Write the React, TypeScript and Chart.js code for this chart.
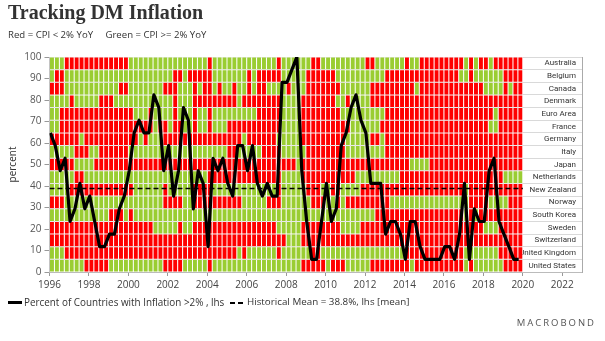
import { useEffect, useRef } from "react";
import { Chart, registerables } from "chart.js";

Chart.register(...registerables);

// ---------------- data ----------------
const startYear = 1996; // first quarter: 1996 Q1, quarterly through 2019 Q4

const countries = [
  "Australia",
  "Belgium",
  "Canada",
  "Denmark",
  "Euro Area",
  "France",
  "Germany",
  "Italy",
  "Japan",
  "Netherlands",
  "New Zealand",
  "Norway",
  "South Korea",
  "Sweden",
  "Switzerland",
  "United Kingdom",
  "United States",
];

// G = CPI >= 2% YoY (green), R = CPI < 2% YoY (red); one block of 4 quarters per year, 1996..2019
const australia = "GGGR RRRR RRRR RRRR GGGG GGGG GGGG GGGG RGGG GGGG GGGG GGRG GGGG GRRG GGGG GGGG RRGG GGGG RGGR RRRR RRRR GRGR RGRR RRRR";
const belgium = "GRRG GGGG GGGG GGGG GGGG GGGG GRRG RRRR RGGG GGGG RGRR RRRG GGGG RRRR RRGG GGGG GGGG RRRR RRRR RRRR RRRG GRGG GGGG RRRR";
const canada = "RRRG GGGG GGGG GGRR GGGG GGGR RRGG GRGR RGRG GRGG RGRR GGGG RGGG RRRR RRRG GGGG GRRR RRRR RRGR RRRR RRRR RRRR GGGG RGRR";
const denmark = "GGGG RGGG GGRR RGGG GGGG GGGG GRGG GRRR RRRR RRGR RRRR RRRG GGGR RRRR RRGG RGGG GRRR RRRR RRRR RRRR RRRR RRRR RRRR RRRR";
const euroArea = "GGRR RRRR RRRR RRRR RGGG RGGG GRGG GRGG RGGG GGGG GGRR RRRG GGGR RRRR RRRG GGGG GGGG RRRR RRRR RRRR RRRR RRRR RRGR RRRR";
const france = "GGRR RRRR RRRR RRRR RRRR RGRR GRRG GRGG RGGG RRRR RRRR RRRG GGGR RRRR RRRR RGGG GGGR RRRR RRRR RRRR RRRR RRRR RGGR RRRR";
const germany = "RRRR RRGR RRRR RRRR RRGR GGGR RRRR RRRR RRRR RRRG RRRR RRGG GGGR RRRR RRRR GGGG GRRG RRRR RRRR RRRR RRRR RRRR RRRR RRRR";
const italy = "GGGG GRRR GGRR RRRR GGGG GGGG GGGG GGGG GGGG RRGG GGGR RRRG GGGG RRRR RRRR GGGG GGGG RRRR RRRR RRRR RRRR RRRR RRRR RRRR";
const japan = "RRRR RGGG GRRR RRRR RRRR RRRR RRRR RRRR RRRR RRRR RRRR RRRR RRGR RRRR RRRR RRRR RRRR RRRR RGGG GRRR RRRR RRRR RRRR RRRR";
const netherlands = "GGGG GRRG GGGG GGGG GGGG GGGG GGGG GGGG RRRR RRRR RRRR RRRG GGGR RRRR RRRR RRGG GGGG GGGR RRRR RRRR RRRR RRRR RRRR GGGG";
const newZealand = "GGGG RRRR RRRR RRRR RGGG GGGR GGGG GRRR RGGG GGGG GGGG GGRG GGGG RRRG GRRG GGGR RRRR RRRR RRRR RRRR RRRR GRRR RRRR RRRR";
const norway = "RRRG GGGG GGGG GGGG GGGG GGGR RRRG GRRR RRRR RRRG GGGG RRRG GGGG GRRR GGRG RRRR RRRR RGGG GGGG GGGG GGGG GRRR RGGG GRRR";
const southKorea = "GGGG GGGG GGGG RRRG RGGG GGGG GGGG GGGG GGGG GGGG GGGG GGGG GGGG GGGG GGGG GGGG GGRR RRRR RRRR RRRR RRRR GRGR RRRR RRRR";
const sweden = "RRRR RRRR RRRR RRRR RRRR RGGG GGRG GRRR RRRR RRRR RRRR RRGG GGGR RRRR RRRG GGGR RRRR RRRR RRRR RRRR RRRR RRRR GGGR RRRR";
const switzerland = "RRRR RRRR RRRR RRRR RRRR RRRR RRRR RRRR RRRR RRRR RRRR RRRR GGGR RRRR RRRR RRRR RRRR RRRR RRRR RRRR RRRR RRRR RRRR RRRR";
const unitedKingdom = "GGGR RRRR RRRR RRRR RRRR RRRR RRRR RRRR RRRR RRGR GGGG GGRG GGGG GRRG GGGG GGGG GGGG GGGG RRRR RRRR RRRR GGGG GGGR RRRR";
const unitedStates = "GGGG GGGR RRRR GGGG GGGG GGGR RRRG GGGG RGGG GGGG GGGG GGGG GGGR RRRR GRRR GGGG GRRR RRRR RGRR RRRR RRRR GRGG GGGG RRRR";

const heatRows = [
  australia, belgium, canada, denmark, euroArea, france, germany, italy, japan,
  netherlands, newZealand, norway, southKorea, sweden, switzerland, unitedKingdom, unitedStates,
];

// Percent of countries with inflation > 2% (quarterly, 1996 Q1 .. 2019 Q4)
const pctAbove2 = [
  64.7, 58.8, 47.1, 52.9, 23.5, 29.4, 41.2, 29.4, 35.3, 23.5, 11.8, 11.8,
  17.6, 17.6, 29.4, 35.3, 47.1, 64.7, 70.6, 64.7, 64.7, 82.4, 76.5, 47.1,
  58.8, 35.3, 47.1, 76.5, 70.6, 29.4, 47.1, 41.2, 11.8, 52.9, 47.1, 52.9,
  41.2, 35.3, 58.8, 58.8, 47.1, 58.8, 41.2, 35.3, 41.2, 35.3, 35.3, 88.2,
  88.2, 94.1, 100, 47.1, 23.5, 5.9, 5.9, 23.5, 41.2, 23.5, 29.4, 58.8,
  64.7, 76.5, 82.4, 70.6, 64.7, 41.2, 41.2, 41.2, 17.6, 23.5, 23.5, 17.6,
  5.9, 23.5, 23.5, 11.8, 5.9, 5.9, 5.9, 5.9, 11.8, 11.8, 5.9, 17.6,
  41.2, 5.9, 29.4, 23.5, 23.5, 47.1, 52.9, 23.5, 17.6, 11.8, 5.9, 5.9,
];

const historicalMean = 38.8;

const xTickYears = [1996, 1998, 2000, 2002, 2004, 2006, 2008, 2010, 2012, 2014, 2016, 2018, 2020, 2022];
const yTickValues = [0, 10, 20, 30, 40, 50, 60, 70, 80, 90, 100];
const xMin = 1996;
const xMax = 2023;

// ---------------- styles ----------------
const GREEN = "#9acd32";
const RED = "#ff0000";
const FONT = "'Open Sans', 'DejaVu Sans', sans-serif";

export default function App() {
  const canvasRef = useRef<HTMLCanvasElement>(null);

  useEffect(() => {
    document.body.style.margin = "0";
    const canvas = canvasRef.current;
    if (!canvas) return;

    const heatSets: any[] = countries.map((name, r) => {
      const cells = heatRows[r].replace(/\s+/g, "").split("");
      return {
        type: "bar",
        label: name,
        indexAxis: "y",
        xAxisID: "x",
        yAxisID: "yc",
        grouped: false,
        data: cells.map((_c, k) => ({ y: name, x: [startYear + k / 4, startYear + (k + 1) / 4] })),
        backgroundColor: cells.map((c) => (c === "G" ? GREEN : RED)),
        borderColor: "#ffffff",
        borderWidth: 0.5,
        borderSkipped: false,
        inflateAmount: 0,
        barPercentage: 1,
        categoryPercentage: 1,
        order: 5,
      };
    });

    const nQuarters = heatRows[0].replace(/\s+/g, "").length;

    const lineSet: any = {
      type: "line",
      label: "Percent of Countries with Inflation >2% , lhs",
      xAxisID: "x",
      yAxisID: "y",
      data: pctAbove2.map((v, k) => ({ x: startYear + k / 4 + 1 / 24, y: v })),
      borderColor: "#000000",
      borderWidth: 3.2,
      pointRadius: 0,
      tension: 0,
      borderJoinStyle: "round",
      order: 0,
    };

    const meanSet: any = {
      type: "line",
      label: "Historical Mean = 38.8%, lhs [mean]",
      xAxisID: "x",
      yAxisID: "y",
      data: [
        { x: startYear, y: historicalMean },
        { x: startYear + nQuarters / 4, y: historicalMean },
      ],
      borderColor: "#000000",
      borderWidth: 1.5,
      borderDash: [5, 3],
      pointRadius: 0,
      order: 1,
    };

    const chart = new Chart(canvas, {
      type: "bar",
      data: { datasets: [lineSet, meanSet, ...heatSets] },
      options: {
        animation: false,
        responsive: false,
        events: [],
        layout: { padding: { left: 0, right: 23, top: 57, bottom: 45 } },
        plugins: { legend: { display: false }, tooltip: { enabled: false } },
        scales: {
          x: {
            type: "linear",
            position: "bottom",
            offset: false,
            min: xMin,
            max: xMax,
            afterBuildTicks: (s: any) => {
              s.ticks = xTickYears.map((v) => ({ value: v }));
            },
            afterFit: (s: any) => {
              s.height = 24;
            },
            grid: { offset: false, drawOnChartArea: false, drawTicks: true, tickLength: 4, color: "#999999" },
            border: { display: true, color: "#bbbbbb" },
            ticks: {
              color: "#444444",
              font: { family: FONT, size: 10 },
              padding: 3,
              maxRotation: 0,
              autoSkip: false,
              callback: (v: any) => String(v),
            },
          },
          y: {
            type: "linear",
            position: "left",
            offset: false,
            min: 0,
            max: 100,
            afterBuildTicks: (s: any) => {
              s.ticks = yTickValues.map((v) => ({ value: v }));
            },
            afterFit: (s: any) => {
              s.width = 49.5;
            },
            grid: { drawOnChartArea: false, tickLength: 5, color: "#999999" },
            border: { display: true, color: "#bbbbbb" },
            ticks: { color: "#555555", font: { family: FONT, size: 10 }, padding: 3, callback: (v: any) => String(v) },
            title: {
              display: true,
              text: "percent",
              color: "#333333",
              font: { family: FONT, size: 10 },
              padding: { top: 7, bottom: 0 },
            },
          },
          yc: {
            type: "category",
            position: "right",
            labels: countries,
            offset: true,
            afterFit: (s: any) => {
              s.width = 0;
            },
            grid: { offset: true, drawOnChartArea: true, drawTicks: false, color: "#d9d9d9" },
            border: { display: true, color: "#aaaaaa" },
            ticks: {
              mirror: true,
              padding: -6,
              autoSkip: false,
              color: "#333333",
              font: { family: "Roboto, 'Open Sans', sans-serif", size: 8 },
            },
          },
        },
      } as any,
    } as any);

    return () => chart.destroy();
  }, []);

  const text = { position: "absolute" as const, fontFamily: FONT, color: "#333333", whiteSpace: "pre" as const };

  return (
    <div style={{ position: "relative", width: 605, height: 341, overflow: "hidden", background: "#ffffff" }}>
      <canvas ref={canvasRef} width={605} height={341} style={{ position: "absolute", left: 0, top: 0, width: 605, height: 341 }} />
      <div style={{ ...text, left: 8, top: 1, fontFamily: "'Liberation Serif', 'DejaVu Serif', serif", fontWeight: 700, fontSize: 20, color: "#333333" }}>
        Tracking DM Inflation
      </div>
      <div style={{ ...text, left: 8, top: 28, fontSize: 9.6 }}>{"Red = CPI < 2% YoY     Green = CPI >= 2% YoY"}</div>
      <div style={{ position: "absolute", left: 8, top: 301, width: 14, height: 3, background: "#000000" }} />
      <div style={{ ...text, left: 24, top: 295, fontSize: 9.9 }}>Percent of Countries with Inflation &gt;2% , lhs</div>
      <div style={{ position: "absolute", left: 230, top: 301.5, width: 5, height: 2, background: "#000000" }} />
      <div style={{ position: "absolute", left: 238, top: 301.5, width: 5, height: 2, background: "#000000" }} />
      <div style={{ ...text, left: 247, top: 295, fontSize: 9.8 }}>Historical Mean = 38.8%, lhs [mean]</div>
      <div style={{ ...text, right: 9, top: 316, fontSize: 9.5, letterSpacing: 2, color: "#555555" }}>MACROBOND</div>
    </div>
  );
}
